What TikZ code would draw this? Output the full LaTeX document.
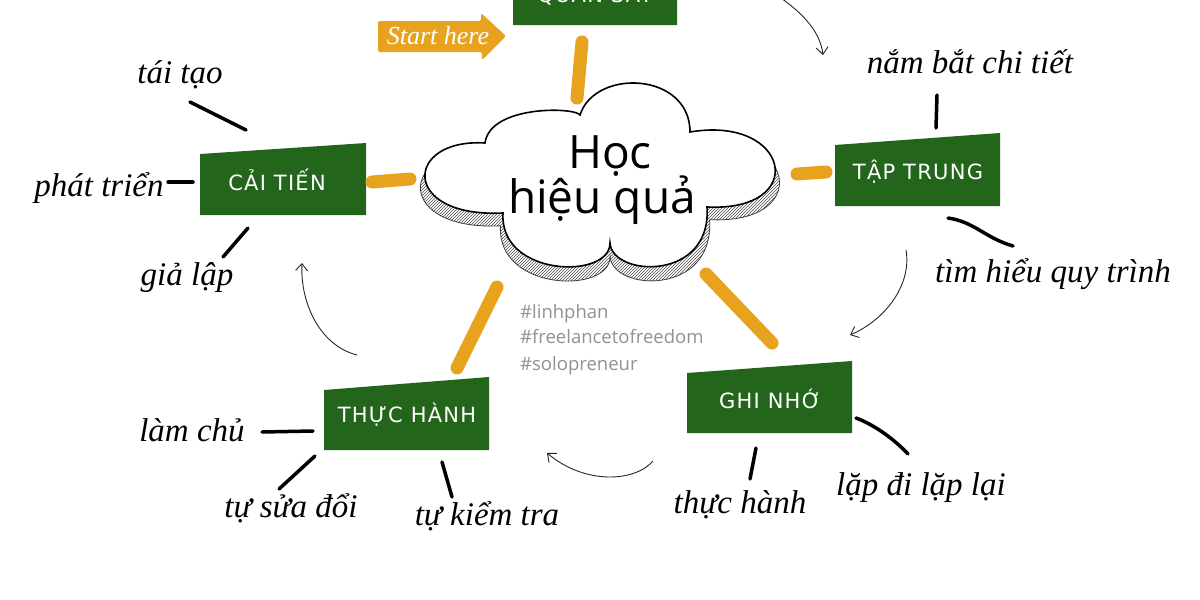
\documentclass[tikz,border=0pt]{standalone}
\usepackage{fontspec}
\setmainfont{Liberation Serif}
\newfontfamily\boxfont{DejaVu Sans}[LetterSpace=6]
\newfontfamily\titlefont{Open Sans}
\newfontfamily\tagfont{Open Sans}
\usetikzlibrary{arrows.meta,patterns}
\definecolor{boxgreen}{RGB}{36,101,28}
\definecolor{mmorange}{RGB}{232,163,30}
\definecolor{taggrey}{RGB}{138,150,138}
\begin{document}
\begin{tikzpicture}[x=1pt,y=-1pt,
  handlabel/.style={font=\fontsize{33}{36}\selectfont\itshape, inner sep=0pt},
  boxlabel/.style={font=\boxfont\fontsize{21}{24}\selectfont, text=white, inner sep=0pt},
  boxfill/.style={fill=boxgreen},
  orangelink/.style={draw=mmorange, line width=13pt, line cap=round},
  handstroke/.style={draw=black, line width=3.5pt, line cap=round},
  cyclearrow/.style={draw=black!85, line width=0.9pt, -{Straight Barb[length=7pt,width=12pt]}},
  tag/.style={font=\tagfont\fontsize{18.5}{20}\selectfont, text=taggrey, anchor=base west, inner sep=0pt},
  titletext/.style={font=\titlefont\fontsize{46}{50}\selectfont, anchor=base, inner sep=0pt},
  cloudpath/.style={insert path={(580,115) .. controls (595,68) and (690,72) .. (690,132)
     .. controls (790,115) and (810,212) .. (707,207)
     .. controls (712,282) and (612,277) .. (610,243)
     .. controls (610,280) and (499,277) .. (503,213)
     .. controls (400,218) and (404,138) .. (485,143)
     .. controls (490,105) and (575,107) .. (580,115) -- cycle}}]
\useasboundingbox (0,0) rectangle (1200,600);
\clip (0,0) rectangle (1200,600);
\fill[white] (0,0) rectangle (1200,600);

% ---- cloud ----
\path[shift={(605,192)}, scale=1.025, shift={(-605,-180)}, pattern=north east lines, pattern color=black!70, draw=black!75, line width=0.8pt, cloudpath];
\path[fill=white, draw=black, line width=1.6pt, cloudpath];
\node[titletext] (hoc) at (610,168) {Học};
\node[titletext] (hieuqua) at (602,213) {hiệu quả};

% ---- start here arrow ----
\fill[mmorange, rounded corners=2pt] (378,21) -- (481,21) -- (481,13) -- (506,36) -- (482,60) -- (482,52) -- (378,52) -- cycle;
\node[font=\fontsize{26}{28}\selectfont\itshape, text=white, anchor=base, inner sep=0pt] (start) at (438,44) {Start here};

% ---- boxes ----
\fill[boxfill] (513,-30) -- (677,-42) -- (677,25) -- (513,25) -- cycle;
\node[boxlabel] (quansat) at (595,-6) {QUAN SÁT};

\fill[boxfill] (200,154) -- (366,143) -- (366,215) -- (200,215) -- cycle;
\node[boxlabel] (caitien) at (277,180) {CẢI TIẾN};

\fill[boxfill] (835,145) -- (1000,133) -- (1000,206) -- (835,206) -- cycle;
\node[boxlabel] (taptrung) at (918,172) {TẬP TRUNG};

\fill[boxfill] (324,390) -- (489,377) -- (489,450) -- (324,450) -- cycle;
\node[boxlabel] (thuchanh) at (407,415) {THỰC HÀNH};

\fill[boxfill] (687,373) -- (852,361) -- (852,433) -- (687,433) -- cycle;
\node[boxlabel] (ghinho) at (770,399) {GHI NHỚ};

% ---- orange links ----
\coordinate (oTopA) at (582,42);   \coordinate (oTopB) at (577,98);
\coordinate (oLeftA) at (372,182); \coordinate (oLeftB) at (410,179);
\coordinate (oRightA) at (797,174); \coordinate (oRightB) at (826,172);
\coordinate (oLLA) at (497,287);   \coordinate (oLLB) at (457,368);
\coordinate (oLRA) at (706,274);   \coordinate (oLRB) at (772,343);
\draw[orangelink] (oTopA) -- (oTopB);
\draw[orangelink] (oLeftA) -- (oLeftB);
\draw[orangelink] (oRightA) -- (oRightB);
\draw[orangelink] (oLLA) -- (oLLB);
\draw[orangelink] (oLRA) -- (oLRB);

% ---- hand labels ----
\node[handlabel] (taitao) at (180,75) {tái tạo};
\node[handlabel] (phattrien) at (99,188) {phát triển};
\node[handlabel] (gialap) at (187,278) {giả lập};
\node[handlabel] (nambat) at (970,62) {nắm bắt chi tiết};
\node[handlabel] (timhieu) at (1053,274) {tìm hiểu quy trình};
\node[handlabel] (lamchu) at (192,430) {làm chủ};
\node[handlabel] (tusua) at (291,508) {tự sửa đổi};
\node[handlabel] (tukiem) at (487,516) {tự kiểm tra};
\node[handlabel] (thuchanh2) at (740,505) {thực hành};
\node[handlabel] (lapdi) at (921,488) {lặp đi lặp lại};

% ---- hand strokes ----
\coordinate (s1a) at (190,102); \coordinate (s1b) at (246,130);
\coordinate (s2a) at (168,182); \coordinate (s2b) at (193,182);
\coordinate (s3a) at (248,228); \coordinate (s3b) at (223,257);
\coordinate (s4a) at (937,95);  \coordinate (s4b) at (936,128);
\coordinate (s5a) at (948,218); \coordinate (s5b) at (1013,246);
\coordinate (s6a) at (262,432); \coordinate (s6b) at (313,431);
\coordinate (s7a) at (315,456); \coordinate (s7b) at (279,489);
\coordinate (s8a) at (442,462); \coordinate (s8b) at (452,497);
\coordinate (s9a) at (756,448); \coordinate (s9b) at (750,479);
\coordinate (s10a) at (856,418); \coordinate (s10b) at (908,454);
\draw[handstroke] (s1a) -- (s1b);
\draw[handstroke] (s2a) -- (s2b);
\draw[handstroke] (s3a) -- (s3b);
\draw[handstroke] (s4a) -- (s4b);
\draw[handstroke] (s5a) .. controls (975,222) and (985,238) .. (s5b);
\draw[handstroke] (s6a) -- (s6b);
\draw[handstroke] (s7a) -- (s7b);
\draw[handstroke] (s8a) -- (s8b);
\draw[handstroke] (s9a) -- (s9b);
\draw[handstroke] (s10a) .. controls (875,425) and (895,440) .. (s10b);

% ---- cycle arrows ----
\coordinate (c1a) at (772,-8);  \coordinate (c1b) at (823,55);
\coordinate (c2a) at (906,250); \coordinate (c2b) at (850,335);
\coordinate (c3a) at (653,461); \coordinate (c3b) at (547,453);
\coordinate (c4a) at (357,355); \coordinate (c4b) at (302,263);
\draw[cyclearrow] (c1a) .. controls (800,10) and (820,30) .. (c1b);
\draw[cyclearrow] (c2a) .. controls (912,285) and (885,320) .. (c2b);
\draw[cyclearrow] (c3a) .. controls (635,482) and (585,485) .. (c3b);
\draw[cyclearrow] (c4a) .. controls (318,345) and (300,300) .. (c4b);

% ---- tags ----
\node[tag] (tag1) at (520,318) {\#linhphan};
\node[tag] (tag2) at (520,343) {\#freelancetofreedom};
\node[tag] (tag3) at (520,370) {\#solopreneur};
\end{tikzpicture}
\end{document}
